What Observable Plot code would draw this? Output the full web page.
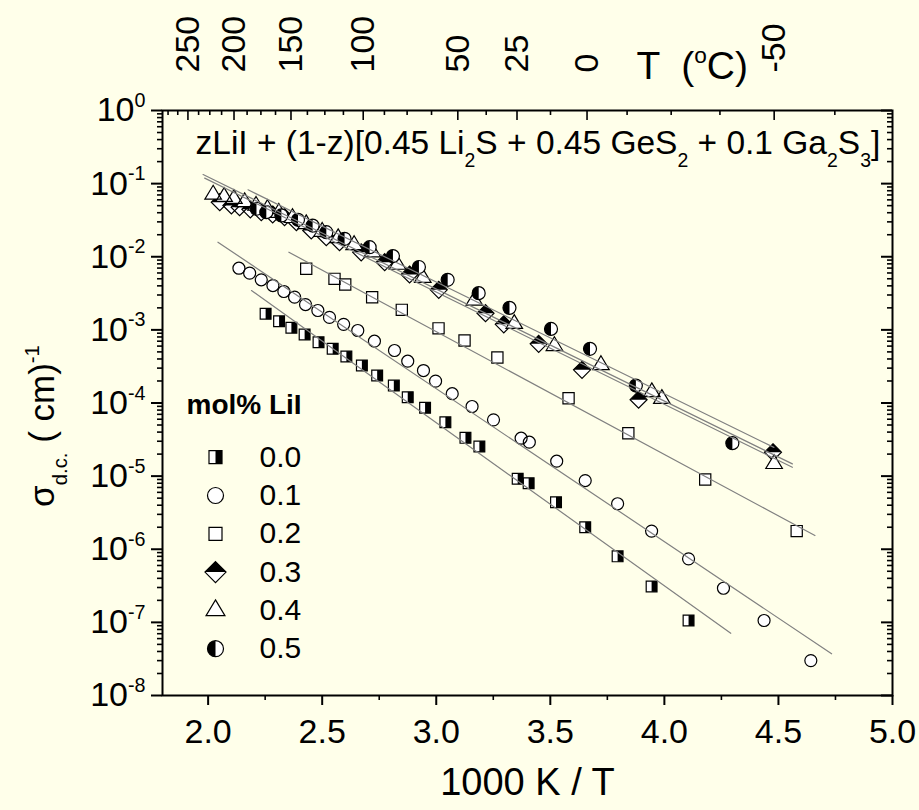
<!DOCTYPE html>
<html><head><meta charset="utf-8">
<script src="https://cdn.jsdelivr.net/npm/d3@7"></script>
<script src="https://cdn.jsdelivr.net/npm/@observablehq/plot@0.6"></script>
<style>
html,body{margin:0;padding:0;background:#FFFFEA;}
svg{display:block;}
</style></head><body><div id="chart"></div>
<script>
// ---------- data (1000 K / T, sigma in S/cm) ----------
const x00 = [2.252,2.311,2.365,2.423,2.484,2.546,2.606,2.674,2.741,2.814,2.875,2.951,3.040,3.128,3.189,3.357,3.405,3.525,3.653,3.795,3.944,4.106];
const s00 = [1.66e-3,1.31e-3,1.07e-3,8.65e-4,6.78e-4,5.51e-4,4.32e-4,3.26e-4,2.38e-4,1.73e-4,1.20e-4,8.6e-5,5.46e-5,3.34e-5,2.54e-5,9.2e-6,8.0e-6,4.40e-6,2.00e-6,8.0e-7,3.10e-7,1.06e-7];
const x01 = [2.135,2.182,2.233,2.284,2.332,2.379,2.427,2.481,2.532,2.594,2.656,2.729,2.817,2.875,2.944,2.997,3.070,3.157,3.251,3.372,3.408,3.528,3.653,3.795,3.944,4.106,4.259,4.437,4.642];
const s01 = [6.97e-3,5.96e-3,4.84e-3,4.04e-3,3.35e-3,2.80e-3,2.22e-3,1.84e-3,1.48e-3,1.19e-3,9.8e-4,7.0e-4,5.22e-4,3.73e-4,2.78e-4,1.99e-4,1.34e-4,8.96e-5,5.89e-5,3.30e-5,2.91e-5,1.60e-5,8.7e-6,4.19e-6,1.77e-6,7.4e-7,2.93e-7,1.06e-7,3.0e-8];
const x02 = [2.430,2.554,2.601,2.719,2.849,3.010,3.124,3.268,3.580,3.842,4.179,4.580];
const s02 = [6.84e-3,4.99e-3,4.17e-3,2.80e-3,1.88e-3,1.05e-3,7.16e-4,4.19e-4,1.16e-4,3.86e-5,9.0e-6,1.77e-6];
const x03 = [2.051,2.102,2.138,2.185,2.233,2.283,2.335,2.387,2.452,2.518,2.576,2.671,2.774,2.883,3.011,3.216,3.296,3.449,3.639,3.887,4.476];
const s03 = [0.0557,0.0502,0.0476,0.0445,0.0407,0.0378,0.0347,0.0297,0.0229,0.0185,0.0158,0.0115,8.42e-3,5.72e-3,3.53e-3,1.69e-3,1.19e-3,6.45e-4,2.84e-4,1.11e-4,2.12e-5];
const x04 = [2.022,2.070,2.113,2.160,2.210,2.260,2.310,2.370,2.430,2.500,2.570,2.640,2.720,2.830,2.941,3.167,3.342,3.518,3.722,3.945,3.989,4.481];
const s04 = [0.071,0.066,0.062,0.056,0.050,0.045,0.040,0.034,0.028,0.022,0.018,0.0145,0.0115,7.8e-3,5.15e-3,2.52e-3,1.21e-3,6.03e-4,3.31e-4,1.41e-4,1.14e-4,1.47e-5];
const x05 = [2.212,2.255,2.321,2.394,2.458,2.518,2.598,2.708,2.810,2.924,3.050,3.186,3.321,3.503,3.674,3.875,4.298];
const s05 = [0.0453,0.0407,0.0367,0.0320,0.0267,0.0217,0.0176,0.0135,0.0102,7.24e-3,4.84e-3,3.18e-3,2.00e-3,1.03e-3,5.51e-4,1.73e-4,2.82e-5];

// Arrhenius fit lines (end points)
const fitNames = ["0.0","0.1","0.2","0.3","0.4","0.5"];
const fitX1 = [2.190, 2.043, 2.354, 1.978, 1.985, 2.175];
const fitS1 = [3.45e-3, 1.58e-2, 1.153e-2, 0.133, 0.119, 0.0823];
const fitX2 = [4.291, 4.733, 4.660, 4.561, 4.561, 4.480];
const fitS2 = [7.1e-8, 3.72e-8, 1.54e-6, 1.47e-5, 1.32e-5, 2.47e-5];

const legendLabels = ["0.0","0.1","0.2","0.3","0.4","0.5"];

// axis ticks
const xMajor = [2.0,2.5,3.0,3.5,4.0,4.5,5.0];
const xMinor = [2.25,2.75,3.25,3.75,4.25,4.75];
const yMajor = [1e-8,1e-7,1e-6,1e-5,1e-4,1e-3,1e-2,1e-1,1];
const yMinor = [];
for (let k = -8; k < 0; k++) for (let m = 2; m <= 9; m++) yMinor.push(m * Math.pow(10, k));
const tempLabels = [250,200,150,100,50,25,0,-50];
const tempMinor = [275,262.5,237.5,225,212.5,187.5,175,162.5,137.5,125,112.5,87.5,75,62.5,37.5,12.5,-12.5,-25,-37.5,-62.5];

// ---------- layout ----------
const W = 919, H = 810, mL = 162, mR = 27, mT = 110, mB = 115;
const iw = W - mL - mR, ih = H - mT - mB;
const invT = t => 1000 / (t + 273.15);

// ---------- custom symbols ----------
const R = s => Math.sqrt(s / Math.PI);
const S = {
  square: {draw(c, s){const r=R(s); c.moveTo(-r,-r); c.lineTo(r,-r); c.lineTo(r,r); c.lineTo(-r,r); c.closePath();}},
  squareRight: {draw(c, s){const r=R(s); c.moveTo(0,-r); c.lineTo(r,-r); c.lineTo(r,r); c.lineTo(0,r); c.closePath();}},
  circle: {draw(c, s){const r=R(s); c.moveTo(r,0); c.arc(0,0,r,0,2*Math.PI); c.closePath();}},
  circleLeft: {draw(c, s){const r=R(s); c.moveTo(0,-r); c.arc(0,0,r,-Math.PI/2,Math.PI/2,true); c.closePath();}},
  diamond: {draw(c, s){const r=R(s); c.moveTo(0,-r); c.lineTo(r,0); c.lineTo(0,r); c.lineTo(-r,0); c.closePath();}},
  diamondTop: {draw(c, s){const r=R(s); c.moveTo(0,-r); c.lineTo(r,0); c.lineTo(-r,0); c.closePath();}},
  triangle: {draw(c, s){const r=R(s); c.moveTo(0,-r); c.lineTo(0.9*r,0.5*r); c.lineTo(-0.9*r,0.5*r); c.closePath();}}
};
// series style: base symbol, half symbol (black), size in data area, size in legend
const styles = [
  {sym: S.square, half: S.squareRight, r: 5.4, lr: 6.5},
  {sym: S.circle, half: null, r: 6.0, lr: 8},
  {sym: S.square, half: null, r: 5.6, lr: 6.5},
  {sym: S.diamond, half: S.diamondTop, r: 8.5, lr: 10.5},
  {sym: S.triangle, half: null, r: 9.2, lr: 10.5},
  {sym: S.circle, half: S.circleLeft, r: 6.5, lr: 8}
];
const seriesX = [x00,x01,x02,x03,x04,x05];
const seriesS = [s00,s01,s02,s03,s04,s05];

function symbolMarks(data, st, opts, r) {
  const marks = [Plot.dot(data, {...opts, symbol: st.sym, r, fill: "white", stroke: "none"})];
  if (st.half) marks.push(Plot.dot(data, {...opts, symbol: st.half, r, fill: "black", stroke: "none"}));
  marks.push(Plot.dot(data, {...opts, symbol: st.sym, r, fill: "none", stroke: "black", strokeWidth: 1.2}));
  return marks;
}

const marks = [];
// data points
seriesX.forEach((xs, i) => {
  const data = xs.map((x, j) => ({x, s: seriesS[i][j]}));
  marks.push(...symbolMarks(data, styles[i], {x: "x", y: "s"}, styles[i].r));
});
// fit lines
const fitData = [];
fitNames.forEach((n, i) => { fitData.push({n, x: fitX1[i], s: fitS1[i]}, {n, x: fitX2[i], s: fitS2[i]}); });
marks.push(Plot.line(fitData, {x: "x", y: "s", z: "n", stroke: "#808080", strokeWidth: 1.2}));

// frame and ticks
marks.push(Plot.frame({stroke: "black", strokeWidth: 2}));
marks.push(Plot.tickX(xMajor, {x: d => d, insetTop: ih, insetBottom: -10, stroke: "black", strokeWidth: 2}));
marks.push(Plot.tickX(xMinor, {x: d => d, insetTop: ih, insetBottom: -5, stroke: "black", strokeWidth: 1.6}));
marks.push(Plot.tickX(tempLabels.map(invT), {x: d => d, insetBottom: ih - 10, stroke: "black", strokeWidth: 1.6}));
marks.push(Plot.tickX(tempMinor.map(invT), {x: d => d, insetBottom: ih - 5, stroke: "black", strokeWidth: 1.6}));
marks.push(Plot.tickY(yMajor, {y: d => d, insetLeft: -11, insetRight: iw, stroke: "black", strokeWidth: 2}));
marks.push(Plot.tickY(yMinor, {y: d => d, insetLeft: -5, insetRight: iw, stroke: "black", strokeWidth: 1.6}));
marks.push(Plot.tickY(yMajor, {y: d => d, insetLeft: iw - 11, insetRight: 0, stroke: "black", strokeWidth: 2}));
marks.push(Plot.tickY(yMinor, {y: d => d, insetLeft: iw - 5, insetRight: 0, stroke: "black", strokeWidth: 1.6}));

// tick labels
marks.push(Plot.axisX(xMajor, {anchor: "bottom", tickSize: 0, tickPadding: 23, tickFormat: d => d.toFixed(1), label: null, fontSize: 34}));
marks.push(Plot.axisY(yMajor, {anchor: "left", tickSize: 0, tickPadding: 17, tickFormat: d => `10^{${Math.round(Math.log10(d))}}`, label: null, fontSize: 34}));
marks.push(Plot.text(tempLabels, {x: invT, text: d => String(d), frameAnchor: "top", rotate: -90, textAnchor: "start", lineAnchor: "middle", dy: -38, fontSize: 34}));
marks.push(Plot.text(["T  (^{o}C)"], {frameAnchor: "top-left", textAnchor: "start", lineAnchor: "middle", dx: 474, dy: -44, fontSize: 39}));

// axis titles
marks.push(Plot.text(["1000 K / T"], {frameAnchor: "bottom", lineAnchor: "middle", dy: 87, fontSize: 38}));
marks.push(Plot.text(["σ_{d.c.} ( cm)^{-1}"], {frameAnchor: "left", rotate: -90, textAnchor: "middle", lineAnchor: "middle", dx: -120, dy: 23, fontSize: 35}));

// annotation
marks.push(Plot.text(["zLiI + (1-z)[0.45 Li_{2}S + 0.45 GeS_{2} + 0.1 Ga_{2}S_{3}]"], {frameAnchor: "top-left", textAnchor: "start", lineAnchor: "middle", dx: 33, dy: 33, fontSize: 33.5}));

// legend
marks.push(Plot.text(["mol% LiI"], {frameAnchor: "top-left", textAnchor: "start", lineAnchor: "middle", dx: 24, dy: 295, fontSize: 28, fontWeight: "bold"}));
const legY0 = 346.7, legStep = 38.3;
legendLabels.forEach((lab, i) => {
  const dy = legY0 + i * legStep;
  marks.push(...symbolMarks([lab], styles[i], {frameAnchor: "top-left", dx: 53, dy}, styles[i].lr));
  marks.push(Plot.text([lab], {frameAnchor: "top-left", textAnchor: "start", lineAnchor: "middle", dx: 97, dy, fontSize: 30}));
});

const chart = Plot.plot({
  width: W, height: H,
  marginLeft: mL, marginRight: mR, marginTop: mT, marginBottom: mB,
  style: {background: "#FFFFEA", fontFamily: "'Liberation Sans', Arial, sans-serif", fontSize: "34px", color: "black", overflow: "visible"},
  x: {domain: [1.8, 5.0]},
  y: {type: "log", domain: [1e-8, 1]},
  marks
});
document.getElementById("chart").appendChild(chart);

// rich text: ^{..} superscripts and _{..} subscripts
function richify(svg) {
  svg.querySelectorAll("text").forEach(t => {
    const s = t.textContent;
    if (!/[\^_]\{/.test(s)) return;
    const fs = parseFloat(getComputedStyle(t).fontSize);
    const parts = [];
    const re = /([\^_])\{([^}]*)\}/g;
    let last = 0, m;
    while ((m = re.exec(s))) {
      if (m.index > last) parts.push({text: s.slice(last, m.index), type: ""});
      parts.push({text: m[2], type: m[1]});
      last = re.lastIndex;
    }
    if (last < s.length) parts.push({text: s.slice(last), type: ""});
    while (t.firstChild) t.removeChild(t.firstChild);
    let cur = 0;
    for (const p of parts) {
      const ts = document.createElementNS("http://www.w3.org/2000/svg", "tspan");
      const target = p.type === "^" ? -0.42 * fs : p.type === "_" ? 0.38 * fs : 0;
      ts.setAttribute("dy", target - cur);
      cur = target;
      if (p.type) ts.setAttribute("font-size", 0.58 * fs);
      ts.textContent = p.text;
      t.appendChild(ts);
    }
  });
}
richify(chart);
</script>
</body></html>
